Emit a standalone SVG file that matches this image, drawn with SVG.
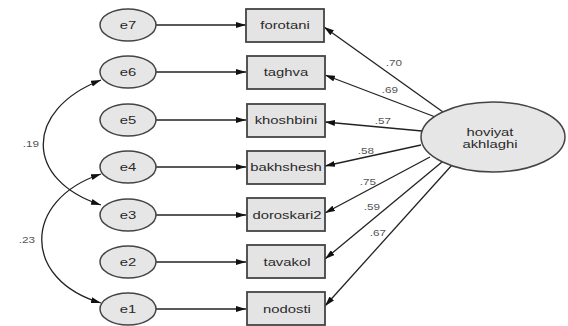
<svg xmlns="http://www.w3.org/2000/svg" width="568" height="326" viewBox="0 0 568 326">
<defs>
<marker id="ah" viewBox="0 0 10 6" refX="10" refY="3" markerWidth="10" markerHeight="6" markerUnits="userSpaceOnUse" orient="auto-start-reverse">
<path d="M0,0 L10,3 L0,6 Z" fill="#111"/>
</marker>
</defs>
<style>
.err ellipse{fill:#e6e6e6;stroke:#444;stroke-width:1.5}
.box rect{fill:#e4e4e4;stroke:#444;stroke-width:1.8}
.lat ellipse{fill:#e6e6e6;stroke:#444;stroke-width:1.5}
text{font-family:"Liberation Sans",Arial,sans-serif;fill:#2a2a2a;text-anchor:middle}
.nt{font-size:11px}
.el{font-size:9px;fill:#555}
.conn path,.conn line{stroke:#222;stroke-width:1.3;fill:none;marker-end:url(#ah)}
.conn path.cov{marker-start:url(#ah)}
</style>
<g id="connectors" class="conn">
<line x1="156" y1="25" x2="246" y2="25"/>
<line x1="156" y1="72" x2="246" y2="72"/>
<line x1="156" y1="120" x2="246" y2="120"/>
<line x1="156" y1="167" x2="246" y2="167"/>
<line x1="156" y1="215" x2="246" y2="215"/>
<line x1="156" y1="262" x2="246" y2="262"/>
<line x1="156" y1="309" x2="246" y2="309"/>
<line x1="443" y1="112" x2="324" y2="27"/>
<line x1="438" y1="118" x2="325" y2="75"/>
<line x1="422" y1="131" x2="325" y2="122"/>
<line x1="421" y1="145" x2="325" y2="166"/>
<line x1="430" y1="157" x2="325" y2="213"/>
<line x1="442" y1="162" x2="325" y2="259"/>
<line x1="452" y1="165" x2="325" y2="306"/>
<path class="cov" d="M101 80 C24 110 24 180 101 205"/>
<path class="cov" d="M101 174 C22 200 22 280 101 303"/>
<text class="el" transform="translate(394 66) scale(1.3 1)">.70</text>
<text class="el" transform="translate(390 93) scale(1.3 1)">.69</text>
<text class="el" transform="translate(383 124) scale(1.3 1)">.57</text>
<text class="el" transform="translate(366 154) scale(1.3 1)">.58</text>
<text class="el" transform="translate(368 185) scale(1.3 1)">.75</text>
<text class="el" transform="translate(372 210) scale(1.3 1)">.59</text>
<text class="el" transform="translate(378 236) scale(1.3 1)">.67</text>
<text class="el" transform="translate(31 147) scale(1.3 1)">.19</text>
<text class="el" transform="translate(27 243) scale(1.3 1)">.23</text>
</g>
<g id="e7" class="err"><ellipse cx="128" cy="25" rx="28" ry="16"/><text class="nt" transform="translate(128 29) scale(1.35 1)">e7</text></g>
<g id="e6" class="err"><ellipse cx="128" cy="72" rx="28" ry="16"/><text class="nt" transform="translate(128 76) scale(1.35 1)">e6</text></g>
<g id="e5" class="err"><ellipse cx="128" cy="120" rx="28" ry="16"/><text class="nt" transform="translate(128 124) scale(1.35 1)">e5</text></g>
<g id="e4" class="err"><ellipse cx="128" cy="167" rx="28" ry="16"/><text class="nt" transform="translate(128 171) scale(1.35 1)">e4</text></g>
<g id="e3" class="err"><ellipse cx="128" cy="215" rx="28" ry="16"/><text class="nt" transform="translate(128 219) scale(1.35 1)">e3</text></g>
<g id="e2" class="err"><ellipse cx="128" cy="262" rx="28" ry="16"/><text class="nt" transform="translate(128 266) scale(1.35 1)">e2</text></g>
<g id="e1" class="err"><ellipse cx="128" cy="309" rx="28" ry="16"/><text class="nt" transform="translate(128 313) scale(1.35 1)">e1</text></g>
<g id="forotani" class="box"><rect x="246" y="9" width="78" height="33"/><text class="nt" transform="translate(285 29) scale(1.35 1)">forotani</text></g>
<g id="taghva" class="box"><rect x="247" y="56" width="78" height="33"/><text class="nt" transform="translate(286 76) scale(1.35 1)">taghva</text></g>
<g id="khoshbini" class="box"><rect x="247" y="104" width="78" height="33"/><text class="nt" transform="translate(286 124) scale(1.35 1)">khoshbini</text></g>
<g id="bakhshesh" class="box"><rect x="247" y="151" width="78" height="33"/><text class="nt" transform="translate(286 171) scale(1.35 1)">bakhshesh</text></g>
<g id="doroskari2" class="box"><rect x="247" y="198" width="78" height="33"/><text class="nt" transform="translate(287 219) scale(1.35 1)">doroskari2</text></g>
<g id="tavakol" class="box"><rect x="247" y="245" width="78" height="33"/><text class="nt" transform="translate(287 266) scale(1.35 1)">tavakol</text></g>
<g id="nodosti" class="box"><rect x="247" y="292" width="78" height="33"/><text class="nt" transform="translate(287 313) scale(1.35 1)">nodosti</text></g>
<g id="hoviyat" class="lat"><ellipse cx="493" cy="137" rx="72" ry="35"/><text class="nt" transform="translate(490 136) scale(1.35 1)">hoviyat</text><text class="nt" transform="translate(490 148) scale(1.35 1)">akhlaghi</text></g>
</svg>
